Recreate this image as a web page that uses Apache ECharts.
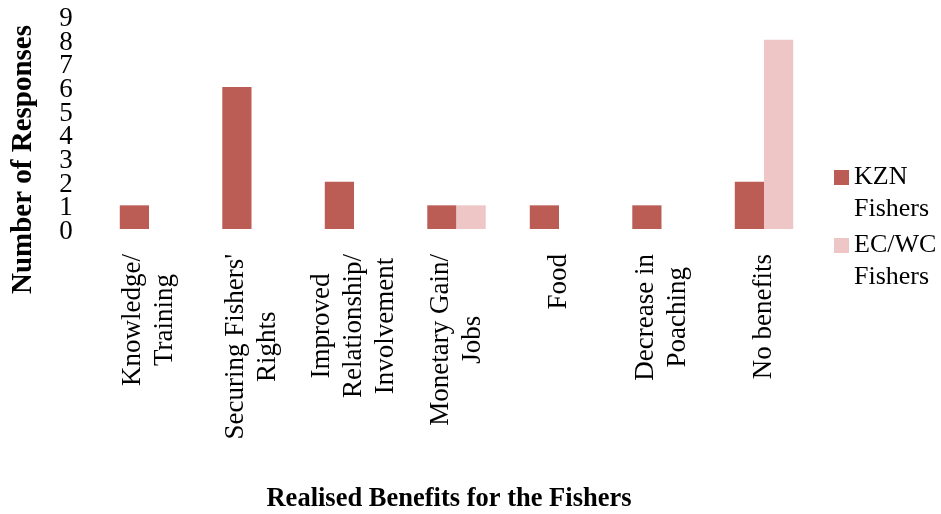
<!DOCTYPE html>
<html>
<head>
<meta charset="utf-8">
<style>
  html, body { margin: 0; padding: 0; background: #ffffff; }
  #chart { width: 941px; height: 514px; }
</style>
<script src="https://cdn.jsdelivr.net/npm/echarts@6/dist/echarts.min.js"></script>
</head>
<body>
<div id="chart"></div>
<script>
// Realised benefits reported by fishers, by region
const categories = [
  'Knowledge/\nTraining',
  "Securing Fishers'\nRights",
  'Improved\nRelationship/\nInvolvement',
  'Monetary Gain/\nJobs',
  'Food',
  'Decrease in\nPoaching',
  'No benefits'
];
const kznFishers = [1, 6, 2, 1, 1, 1, 2];
const ecwcFishers = [0, 0, 0, 1, 0, 0, 8];
const yTicks = [0, 1, 2, 3, 4, 5, 6, 7, 8, 9];
const seriesNames = ['KZN Fishers', 'EC/WC Fishers'];

const FONT = '"Liberation Serif", "DejaVu Serif", serif';
const chart = echarts.init(document.getElementById('chart'), null, { renderer: 'canvas' });

// one legend block per series; the name wraps onto two lines and a blank
// leading line keeps the swatch level with the first line of text
function legendBlock(name, top) {
  return {
    data: [name],
    left: 834,
    top: top,
    orient: 'vertical',
    padding: 0,
    itemWidth: 15,
    itemHeight: 15,
    icon: 'rect',
    formatter: n => '\n' + n.replace(' ', '\n'),
    textStyle: {
      fontFamily: FONT,
      fontSize: 26,
      lineHeight: 32,
      color: '#000'
    }
  };
}

chart.setOption({
  animation: false,
  color: ['#BB5C55', '#EDC6C5'],
  grid: { left: 97.75, right: 125.75, top: 16, bottom: 284.5, containLabel: false },
  legend: [legendBlock(seriesNames[0], 129.5), legendBlock(seriesNames[1], 197.5)],
  xAxis: {
    type: 'category',
    data: categories,
    axisLine: { show: false },
    axisTick: { show: false },
    splitLine: { show: false },
    axisLabel: {
      interval: 0,
      rotate: 90,
      margin: 25,
      fontFamily: FONT,
      fontSize: 27,
      lineHeight: 32,
      color: '#000',
      formatter: v => v.split('\n').map(s => '{c|' + s + '}').join('\n'),
      rich: { c: { align: 'center', fontFamily: FONT, fontSize: 27, lineHeight: 32, color: '#000' } }
    },
    name: 'Realised Benefits for the Fishers',
    nameLocation: 'middle',
    nameGap: 257,
    nameTextStyle: {
      fontFamily: FONT,
      fontSize: 26.5,
      fontWeight: 'bold',
      color: '#000',
      padding: [0, 15, 0, 0]
    }
  },
  yAxis: [
    {
      // value scale used by the bars; carries the axis title
      type: 'value',
      min: yTicks[0],
      max: yTicks[yTicks.length - 1],
      interval: 1,
      axisLine: { show: false },
      axisTick: { show: false },
      splitLine: { show: false },
      axisLabel: { show: false },
      name: 'Number of Responses',
      nameLocation: 'middle',
      nameGap: 60,
      nameRotate: 90,
      nameTextStyle: {
        fontFamily: FONT,
        fontSize: 29,
        fontWeight: 'bold',
        color: '#000',
        padding: [0, 74, 0, 0]
      }
    },
    {
      // tick labels 0..9, every one shown even though they sit tightly together
      type: 'category',
      data: yTicks.map(String),
      boundaryGap: false,
      position: 'left',
      axisLine: { show: false },
      axisTick: { show: false },
      splitLine: { show: false },
      axisLabel: {
        interval: 0,
        margin: 25,
        fontFamily: FONT,
        fontSize: 27,
        verticalAlign: 'top',
        lineHeight: 6,
        color: '#000'
      }
    }
  ],
  series: [
    {
      name: seriesNames[0],
      type: 'bar',
      yAxisIndex: 0,
      data: kznFishers,
      barGap: '0%',
      barCategoryGap: '43%'
    },
    {
      name: seriesNames[1],
      type: 'bar',
      yAxisIndex: 0,
      data: ecwcFishers,
      barGap: '0%',
      barCategoryGap: '43%'
    }
  ]
});
</script>
</body>
</html>
